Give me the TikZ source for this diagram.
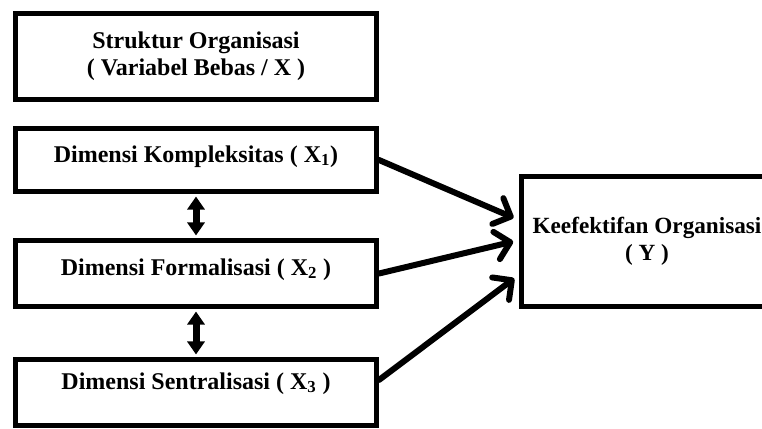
\documentclass[tikz,border=0pt]{standalone}
\usepackage{fontspec}
\setmainfont{Liberation Serif}
\usetikzlibrary{arrows.meta}
\tikzset{every picture/.style={x=0.75pt,y=-0.75pt}}
\tikzset{box/.style={draw,line width=3.75pt,inner sep=0pt,align=center,font=\bfseries\fontsize{18}{20.5}\selectfont}}
\tikzset{edge/.style={line width=4.5pt,line cap=round,-{Straight Barb[length=10.5pt,width=21pt,round]},shorten >=4.5pt}}
\tikzset{twoway/.style={line width=5.25pt,{Triangle[length=9.75pt,width=12.75pt]}-{Triangle[length=9.75pt,width=12.75pt]},shorten <=1.9pt,shorten >=1.9pt}}

\begin{document}
\begin{tikzpicture}
\useasboundingbox (0,0) rectangle (762,428);
\clip (0,0) rectangle (762,428);

\node [box,minimum width=270.75pt,minimum height=64.5pt] (x) at (196,56.5) {Struktur Organisasi\\( Variabel Bebas / X )};

\node [box,minimum width=270.75pt,minimum height=47.25pt,text height=12pt,text depth=9pt] (x1) at (196,160) {Dimensi Kompleksitas ( X\textsubscript{1})};
\node [box,minimum width=270.75pt,minimum height=49.5pt,text height=12pt,text depth=9.75pt] (x2) at (196,273.5) {Dimensi Formalisasi ( X\textsubscript{2} )};
\node [box,minimum width=270.75pt,minimum height=49.5pt,text height=12pt,text depth=17.25pt] (x3) at (196,392.5) {Dimensi Sentralisasi ( X\textsubscript{3} )};

\node [box,minimum width=188.25pt,minimum height=97.5pt,font=\bfseries\fontsize{17.4}{20}\selectfont] (y) at (647,241.5) {Keefektifan Organisasi\\( Y )};

\draw [twoway] (x1.south) -- (x2.north);
\draw [twoway] (x2.south) -- (x3.north);

\draw [edge] (x1.east) -- ([yshift=16pt]y.west);
\draw [edge] (x2.east) -- ([yshift=1pt]y.west);
\draw [edge] ([yshift=9.4pt]x3.east) -- ([yshift=-25pt]y.west);
\end{tikzpicture}
\end{document}
